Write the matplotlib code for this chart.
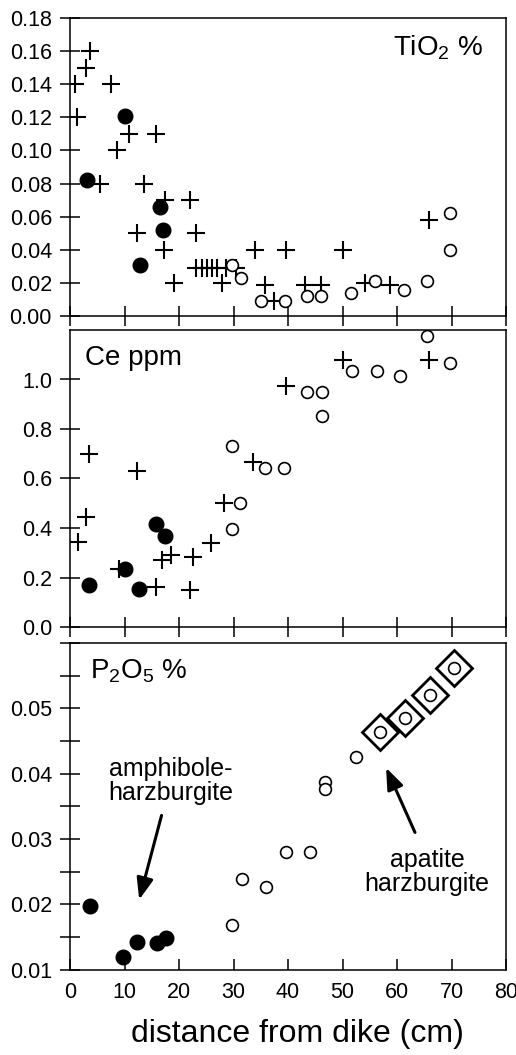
import numpy as np
import matplotlib
matplotlib.use("Agg")
import matplotlib.pyplot as plt
from matplotlib.ticker import MultipleLocator, FormatStrFormatter

plt.rcParams["font.family"] = ["Liberation Sans", "DejaVu Sans"]
plt.rcParams["mathtext.fontset"] = "custom"
plt.rcParams["mathtext.rm"] = "Liberation Sans"

# ── Data (distance from dike in cm) ───────────────────────────────────
# TiO2 %
ti_plus_x = [3.6, 3.0, 0.9, 7.6, 1.3, 10.8, 15.8, 8.6, 5.5, 13.5, 17.5, 22.1,
             12.3, 23.1, 17.2, 19.1, 27.8, 23.2, 24.3, 25.2, 26.1, 27.0, 28.6,
             30.5, 33.9, 39.7, 50.0, 35.7, 37.5, 43.1, 46.1, 54.1, 58.7, 65.8]
ti_plus_y = [0.160, 0.150, 0.140, 0.140, 0.120, 0.110, 0.110, 0.100, 0.080,
             0.080, 0.070, 0.070, 0.050, 0.050, 0.040, 0.020, 0.020, 0.029,
             0.029, 0.029, 0.029, 0.029, 0.029, 0.029, 0.040, 0.040, 0.040,
             0.019, 0.009, 0.019, 0.019, 0.020, 0.019, 0.058]
ti_fill_x = [3.2, 10.0, 16.5, 17.1, 12.8]
ti_fill_y = [0.082, 0.121, 0.066, 0.052, 0.031]
ti_open_x = [29.8, 31.4, 35.1, 39.4, 43.4, 46.1, 51.5, 56.0, 61.2, 65.5, 69.8, 69.8]
ti_open_y = [0.031, 0.023, 0.009, 0.009, 0.012, 0.012, 0.014, 0.021, 0.016,
             0.021, 0.062, 0.040]

# Ce ppm
ce_plus_x = [3.5, 12.3, 2.9, 1.5, 8.9, 15.8, 22.1, 16.8, 18.5, 22.5, 25.8, 28.2,
             33.5, 39.7, 50.0, 65.8]
ce_plus_y = [0.70, 0.63, 0.445, 0.345, 0.235, 0.162, 0.151, 0.269, 0.292, 0.283,
             0.340, 0.499, 0.666, 0.973, 1.078, 1.078]
ce_fill_x = [3.5, 10.0, 12.6, 15.8, 17.4]
ce_fill_y = [0.171, 0.234, 0.154, 0.418, 0.366]
ce_open_x = [29.7, 31.2, 29.7, 35.7, 39.2, 43.5, 46.3, 46.3, 51.7, 56.4, 60.6,
             69.8, 65.5]
ce_open_y = [0.730, 0.499, 0.396, 0.643, 0.643, 0.949, 0.949, 0.852, 1.034,
             1.034, 1.016, 1.067, 1.175]

# P2O5 %
p_fill_x = [3.7, 12.3, 16.0, 17.7, 9.7]
p_fill_y = [0.0198, 0.0143, 0.0141, 0.0148, 0.0120]
p_open_x = [29.8, 31.5, 35.9, 39.7, 44.0, 46.8, 46.8, 52.5]
p_open_y = [0.0168, 0.0239, 0.0226, 0.0280, 0.0280, 0.0387, 0.0377, 0.0426]
p_apat_x = [56.8, 61.5, 66.1, 70.4]
p_apat_y = [0.0463, 0.0485, 0.0521, 0.0561]

# ── Figure ────────────────────────────────────────────────────────────
fig = plt.figure(figsize=(5.16, 10.55), dpi=100)
W, H = 516, 1055
left, right = 70 / W, 506 / W


def panel(top, bottom):
    return fig.add_axes([left, 1 - bottom / H, right - left, (bottom - top) / H])


ax1 = panel(18, 316)
ax2 = panel(330, 627)
ax3 = panel(643, 969.6)

plus_kw = dict(marker="+", ms=13.5, mew=1.5, color="black", ls="none", zorder=3)
fill_kw = dict(marker="o", ms=10.5, color="black", ls="none", zorder=4)
open_kw = dict(marker="o", ms=8.5, mfc="white", mec="black", mew=1.2,
               ls="none", zorder=5)

ax1.plot(ti_plus_x, ti_plus_y, **plus_kw)
ax1.plot(ti_fill_x, ti_fill_y, **fill_kw)
ax1.plot(ti_open_x, ti_open_y, **open_kw)

ax2.plot(ce_plus_x, ce_plus_y, **plus_kw)
ax2.plot(ce_fill_x, ce_fill_y, **fill_kw)
ax2.plot(ce_open_x, ce_open_y, **open_kw)

ax3.plot(p_fill_x, p_fill_y, **fill_kw)
ax3.plot(p_open_x, p_open_y, **open_kw)
ax3.plot(p_apat_x, p_apat_y, marker="D", ms=18, mfc="white", mec="black",
         mew=2.0, ls="none", zorder=4)
ax3.plot(p_apat_x, p_apat_y, **open_kw)

for ax in (ax1, ax2, ax3):
    ax.set_xlim(0, 80)
    ax.set_xticks(np.arange(0, 81, 10))
    for s in ax.spines.values():
        s.set_linewidth(1.1)
    ax.tick_params(axis="y", direction="inout", length=14, width=1.1,
                   labelsize=15.5, pad=6)
    ax.tick_params(axis="y", which="minor", direction="inout", length=14, width=1.1)
    ax.tick_params(axis="x", direction="inout", length=14, width=1.1,
                   labelbottom=False)

ax1.set_ylim(0, 0.18)
ax1.yaxis.set_major_locator(MultipleLocator(0.02))
ax1.yaxis.set_major_formatter(FormatStrFormatter("%.2f"))

ax2.set_ylim(0, 1.2)
ax2.set_yticks(np.arange(0, 1.01, 0.2))
ax2.yaxis.set_major_formatter(FormatStrFormatter("%.1f"))

ax3.set_ylim(0.01, 0.06)
ax3.set_yticks([0.01, 0.02, 0.03, 0.04, 0.05])
ax3.yaxis.set_minor_locator(MultipleLocator(0.005))
ax3.yaxis.set_major_formatter(FormatStrFormatter("%.2f"))
ax3.tick_params(axis="x", direction="in", length=8, labelbottom=True,
                labelsize=15.5, pad=9)
ax3.set_xlabel("distance from dike (cm)", fontsize=23)
ax3.xaxis.set_label_coords(0.521, -0.15)

# panel titles
ax1.text(0.947, 0.876, "TiO$_2$ %", transform=ax1.transAxes, ha="right",
         va="baseline", fontsize=20)
ax2.text(0.034, 0.882, "Ce ppm", transform=ax2.transAxes, ha="left",
         va="baseline", fontsize=20)
ax3.text(0.046, 0.892, "P$_2$O$_5$ %", transform=ax3.transAxes, ha="left",
         va="baseline", fontsize=20)

arrow = dict(arrowstyle="-|>,head_length=0.65,head_width=0.25", color="black",
             lw=2.2, mutation_scale=20, shrinkA=0, shrinkB=0)
ax3.annotate("", xy=(12.7, 0.0207), xytext=(16.8, 0.0336), arrowprops=arrow)
ax3.text(18.5, 0.0389, "amphibole-\nharzburgite", ha="center", va="center",
         fontsize=18, linespacing=1.0)
ax3.annotate("", xy=(58.0, 0.0409), xytext=(63.3, 0.0310), arrowprops=arrow)
ax3.text(65.5, 0.0249, "apatite\nharzburgite", ha="center", va="center",
         fontsize=18, linespacing=1.0)

fig.savefig("out.png", dpi=100)
